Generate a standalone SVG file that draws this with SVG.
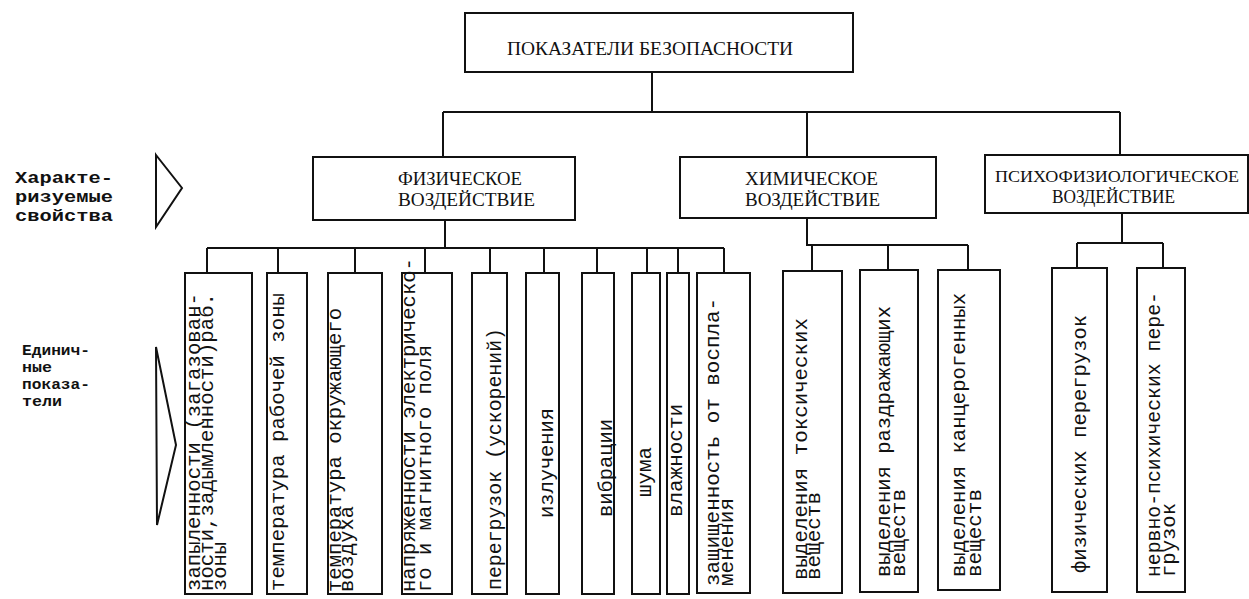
<svg xmlns="http://www.w3.org/2000/svg" width="1249" height="599" viewBox="0 0 1249 599">
<style>
.box{fill:none;stroke:#111;stroke-width:2}
.ln{fill:none;stroke:#111;stroke-width:2}
.t{font-family:"Liberation Serif","DejaVu Serif",serif;font-size:19px;fill:#111}
.v{font-family:"Liberation Mono","DejaVu Sans Mono",monospace;font-size:20px;fill:#111}
.lb{font-family:"Liberation Mono","DejaVu Sans Mono",monospace;font-size:16.5px;font-weight:bold;fill:#111}
.lb2{font-family:"Liberation Mono","DejaVu Sans Mono",monospace;font-size:15px;font-weight:bold;fill:#111}
</style>
<rect width="1249" height="599" fill="#fff"/>
<g id="connectors">
<path class="ln" d="M652 72V112M443 112H1120M443 112V157M807 112V157M1120 112V155"/>
<path class="ln" d="M445 220V248M207 248H724M207 248V273M278 248V273M355 248V273M425 248V273M490 248V273M544 248V273M597 248V273M647 248V273M678 248V273M724 248V273"/>
<path class="ln" d="M807 218V245H968M812 245V271M888 245V270M968 245V270"/>
<path class="ln" d="M1122 213V243M1077 243H1163M1077 243V268M1163 243V268"/>
</g>
<g id="label-props">
<text class="lb" x="15" y="183" textLength="98" lengthAdjust="spacingAndGlyphs">Характе-</text>
<text class="lb" x="15" y="202" textLength="98" lengthAdjust="spacingAndGlyphs">ризуемые</text>
<text class="lb" x="15" y="221" textLength="98" lengthAdjust="spacingAndGlyphs">свойства</text>
<polygon class="ln" points="156,155 182,188 156,227"/>
</g>
<g id="label-single">
<text class="lb2" x="22" y="355" textLength="68" lengthAdjust="spacingAndGlyphs">Единич-</text>
<text class="lb2" x="22" y="372" textLength="30" lengthAdjust="spacingAndGlyphs">ные</text>
<text class="lb2" x="22" y="389" textLength="68" lengthAdjust="spacingAndGlyphs">показа-</text>
<text class="lb2" x="22" y="406" textLength="40" lengthAdjust="spacingAndGlyphs">тели</text>
<polygon class="ln" points="156,347 176,445 157,525"/>
</g>
<g id="root">
<rect class="box" x="465" y="13" width="388" height="59"/>
<text class="t" x="507" y="55" textLength="286" lengthAdjust="spacingAndGlyphs">ПОКАЗАТЕЛИ БЕЗОПАСНОСТИ</text>
</g>
<g id="physical">
<rect class="box" x="313" y="157" width="262" height="63"/>
<text class="t" x="398" y="185" textLength="124" lengthAdjust="spacingAndGlyphs">ФИЗИЧЕСКОЕ</text>
<text class="t" x="398" y="206" textLength="137" lengthAdjust="spacingAndGlyphs">ВОЗДЕЙСТВИЕ</text>
</g>
<g id="chemical">
<rect class="box" x="680" y="157" width="256" height="61"/>
<text class="t" x="745" y="185" textLength="133" lengthAdjust="spacingAndGlyphs">ХИМИЧЕСКОЕ</text>
<text class="t" x="745" y="206" textLength="135" lengthAdjust="spacingAndGlyphs">ВОЗДЕЙСТВИЕ</text>
</g>
<g id="psycho">
<rect class="box" x="985" y="155" width="263" height="58"/>
<text class="t" x="995" y="182" style="font-size:17px" textLength="244" lengthAdjust="spacingAndGlyphs">ПСИХОФИЗИОЛОГИЧЕСКОЕ</text>
<text class="t" x="1052" y="203" textLength="123" lengthAdjust="spacingAndGlyphs">ВОЗДЕЙСТВИЕ</text>
</g>
<g id="n1">
<rect class="box" x="185" y="273" width="67" height="321"/>
<text class="v" transform="translate(200,591) rotate(-90)" textLength="298" lengthAdjust="spacingAndGlyphs">запыленности (загазован-</text>
<text class="v" transform="translate(213,591) rotate(-90)" textLength="298" lengthAdjust="spacingAndGlyphs">ности,задымленности)раб.</text>
<text class="v" transform="translate(226,591) rotate(-90)" textLength="49" lengthAdjust="spacingAndGlyphs">зоны</text>
</g>
<g id="n2">
<rect class="box" x="267" y="273" width="40" height="321"/>
<text class="v" transform="translate(284,591) rotate(-90)" textLength="298" lengthAdjust="spacingAndGlyphs">температура рабочей зоны</text>
</g>
<g id="n3">
<rect class="box" x="328" y="273" width="54" height="321"/>
<text class="v" transform="translate(341,592) rotate(-90)" textLength="284" lengthAdjust="spacingAndGlyphs">температура окружающего</text>
<text class="v" transform="translate(353,592) rotate(-90)" textLength="86" lengthAdjust="spacingAndGlyphs">воздуха</text>
</g>
<g id="n4">
<rect class="box" x="402" y="273" width="50" height="321"/>
<text class="v" transform="translate(415,592) rotate(-90)" textLength="334" lengthAdjust="spacingAndGlyphs">напряженности электрическо-</text>
<text class="v" transform="translate(431,592) rotate(-90)" textLength="247" lengthAdjust="spacingAndGlyphs">го и магнитного поля</text>
</g>
<g id="n5">
<rect class="box" x="472" y="273" width="35" height="321"/>
<text class="v" transform="translate(501,590) rotate(-90)" textLength="262" lengthAdjust="spacingAndGlyphs">перегрузок (ускорений)</text>
</g>
<g id="n6">
<rect class="box" x="526" y="273" width="33" height="321"/>
<text class="v" transform="translate(553,518) rotate(-90)" textLength="110" lengthAdjust="spacingAndGlyphs">излучения</text>
</g>
<g id="n7">
<rect class="box" x="582" y="273" width="32" height="321"/>
<text class="v" transform="translate(612,517) rotate(-90)" textLength="98" lengthAdjust="spacingAndGlyphs">вибрации</text>
</g>
<g id="n8">
<rect class="box" x="632" y="273" width="28" height="321"/>
<text class="v" transform="translate(651,497) rotate(-90)" textLength="50" lengthAdjust="spacingAndGlyphs">шума</text>
</g>
<g id="n9">
<rect class="box" x="667" y="273" width="22" height="321"/>
<text class="v" transform="translate(682,517) rotate(-90)" textLength="113" lengthAdjust="spacingAndGlyphs">влажности</text>
</g>
<g id="n10">
<rect class="box" x="697" y="273" width="53" height="320"/>
<text class="v" transform="translate(719,586) rotate(-90)" textLength="288" lengthAdjust="spacingAndGlyphs">защищенность от воспла-</text>
<text class="v" transform="translate(733,586) rotate(-90)" textLength="88" lengthAdjust="spacingAndGlyphs">менения</text>
</g>
<g id="n11">
<rect class="box" x="783" y="271" width="59" height="322"/>
<text class="v" transform="translate(807,580) rotate(-90)" textLength="262" lengthAdjust="spacingAndGlyphs">выделения токсических</text>
<text class="v" transform="translate(820,580) rotate(-90)" textLength="88" lengthAdjust="spacingAndGlyphs">веществ</text>
</g>
<g id="n12">
<rect class="box" x="860" y="270" width="58" height="322"/>
<text class="v" transform="translate(890,577) rotate(-90)" textLength="271" lengthAdjust="spacingAndGlyphs">выделения раздражающих</text>
<text class="v" transform="translate(905,577) rotate(-90)" textLength="88" lengthAdjust="spacingAndGlyphs">веществ</text>
</g>
<g id="n13">
<rect class="box" x="938" y="270" width="62" height="320"/>
<text class="v" transform="translate(965,577) rotate(-90)" textLength="284" lengthAdjust="spacingAndGlyphs">выделения канцерогенных</text>
<text class="v" transform="translate(981,577) rotate(-90)" textLength="88" lengthAdjust="spacingAndGlyphs">веществ</text>
</g>
<g id="n14">
<rect class="box" x="1052" y="268" width="55" height="324"/>
<text class="v" transform="translate(1086,573) rotate(-90)" textLength="258" lengthAdjust="spacingAndGlyphs">физических перегрузок</text>
</g>
<g id="n15">
<rect class="box" x="1137" y="268" width="48" height="324"/>
<text class="v" transform="translate(1160,577) rotate(-90)" textLength="285" lengthAdjust="spacingAndGlyphs">нервно-психических пере-</text>
<text class="v" transform="translate(1175,577) rotate(-90)" textLength="74" lengthAdjust="spacingAndGlyphs">грузок</text>
</g>
</svg>
